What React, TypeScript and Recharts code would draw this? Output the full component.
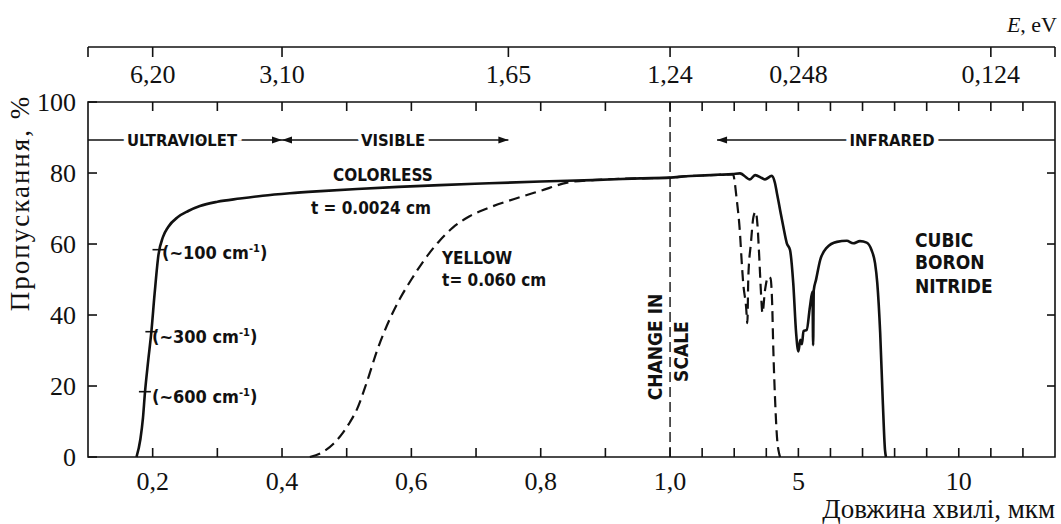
import { ComposedChart, Line, ReferenceArea, ReferenceLine, Scatter, XAxis, YAxis } from "recharts";

const W = 1061;
const H = 524;

// x: linear 0.1–1.0 µm, then a squeezed 1–13 µm part after the "change in scale"
const WL_MIN = 0.1;
const WL_MAX = 13;
const IR_SQUEEZE = 0.0496;
const toAxis = (wl: number) => (wl <= 1 ? wl : 1 + (wl - 1) * IR_SQUEEZE);
const X_DOMAIN: [number, number] = [toAxis(WL_MIN), toAxis(WL_MAX)];

// y: transmission %, the photon energy scale sits above the 100 % frame
const T_MAX = 100;
const EV_ROW = 115.5;

// [wavelength µm, transmission %]
const colorless: [number, number][] = [
  [0.175, 0], [0.181, 5], [0.185, 11], [0.188, 18], [0.193, 27], [0.198, 35.3], [0.203, 46], [0.209, 57],
  [0.216, 62], [0.224, 64.8], [0.239, 67.6], [0.255, 69.3], [0.273, 70.7], [0.3, 71.9], [0.335, 72.8],
  [0.37, 73.6], [0.412, 74.3], [0.46, 74.9], [0.516, 75.5], [0.58, 76.1], [0.644, 76.6], [0.72, 77.1],
  [0.8, 77.6], [0.88, 78], [0.954, 78.5], [1, 78.7], [1.5, 79.1], [2, 79.3], [2.5, 79.5], [2.96, 79.7],
  [3.18, 79.9], [3.49, 78.2], [3.65, 79.4], [3.86, 78.6], [3.96, 78.2], [4.17, 79.2], [4.27, 77.2],
  [4.33, 74.4], [4.43, 69.6], [4.53, 64.9], [4.64, 60.2], [4.74, 58.3], [4.84, 49], [4.93, 34.9],
  [5.0, 29.7], [5.06, 33], [5.11, 31.8], [5.16, 35.5], [5.26, 35.8], [5.36, 42.3], [5.44, 46.6],
  [5.46, 31.5], [5.48, 47], [5.55, 49.9], [5.68, 55.5], [5.88, 58.9], [6.2, 60.6], [6.51, 60.9],
  [6.71, 60.2], [6.92, 60.8], [7.13, 60.4], [7.28, 58.3], [7.39, 54.6], [7.46, 49], [7.55, 35],
  [7.63, 16], [7.7, 2], [7.73, 0],
];

const yellow: [number, number][] = [
  [0.443, 0], [0.463, 1.4], [0.48, 3.8], [0.494, 6.8], [0.505, 9.8], [0.516, 13.5], [0.531, 21],
  [0.547, 30], [0.567, 39], [0.582, 44.5], [0.6, 50], [0.618, 55], [0.644, 61], [0.664, 64.6],
  [0.69, 67.8], [0.717, 70], [0.768, 73.2], [0.8, 75], [0.841, 77.3], [0.88, 78], [0.954, 78.5],
  [1, 78.7], [1.5, 79.1], [2, 79.3], [2.5, 79.5], [2.96, 79.6], [3.08, 72.4], [3.18, 63], [3.23, 55.5],
  [3.28, 49], [3.37, 42.3], [3.41, 37.7], [3.44, 50.8], [3.52, 60.2], [3.6, 67.7], [3.67, 69.1],
  [3.72, 65.9], [3.78, 56.4], [3.83, 47], [3.88, 40.6], [3.96, 47], [4.06, 50.8], [4.13, 50.4],
  [4.18, 44], [4.22, 30], [4.27, 17], [4.34, 4.8], [4.4, 1], [4.43, 0],
];

const bottomTickWl = [0.2, 0.3, 0.4, 0.5, 0.6, 0.7, 0.8, 0.9, 1, 2, 3, 4, 5, 6, 7, 8, 9, 10, 11, 12];
const bottomTickLabels = ["0,2", "", "0,4", "", "0,6", "", "0,8", "", "1,0", "", "", "", "5", "", "", "", "", "10", "", ""];
const evTickWl = [0.1, 0.2, 0.4, 0.75, 1, 5, 11, 13];
const evTickLabels = ["", "6,20", "3,10", "1,65", "1,24", "0,248", "0,124", ""];
const yTicks = [0, 20, 40, 60, 80, 100];
const yTicksRight = [20, 40, 60, 80];

// spectral regions row
const REGION_T = 89.3;
const regionSegments: [number, number][] = [[0.1, 0.4], [0.4, 0.75], [2.465, 13]];
const regionArrows = [
  { wl: 0.4, dir: 1 },
  { wl: 0.4, dir: -1 },
  { wl: 0.75, dir: 1 },
  { wl: 2.465, dir: -1 },
];
const regionLabels = [
  { wl: 0.2454, text: "ULTRAVIOLET" },
  { wl: 0.5716, text: "VISIBLE" },
  { wl: 7.92, text: "INFRARED" },
];

const curveLabels = [
  { wl: 0.556, t: 79.4, text: "COLORLESS" },
  { wl: 0.5376, t: 70.1, text: "t = 0.0024 cm" },
  { wl: 0.7016, t: 56.2, text: "YELLOW" },
  { wl: 0.728, t: 49.9, text: "t= 0.060 cm" },
];

// absorption coefficient marks on the colorless edge
const edgeMarks = [
  { wl: 0.209, t: 58.4 },
  { wl: 0.198, t: 35.3 },
  { wl: 0.188, t: 18.4 },
];
const edgeLabels = [
  { wl: 0.2144, t: 57.7, value: "100" },
  { wl: 0.199, t: 33.8, value: "300" },
  { wl: 0.199, t: 16.9, value: "600" },
];

const materialLines = [
  { wl: 8.637, t: 61.1, text: "CUBIC" },
  { wl: 8.637, t: 54.9, text: "BORON" },
  { wl: 8.637, t: 48.0, text: "NITRIDE" },
];

const scaleNote = [
  { wl: 0.9775, t: 31, text: "CHANGE IN" },
  { wl: 1.358, t: 29.7, text: "SCALE" },
];

const INK = "#111";
const SERIF = "'Liberation Serif', 'Times New Roman', serif";
const LETTERING = "'Liberation Sans Narrow', 'DejaVu Sans Condensed', 'Arial Narrow', sans-serif";

const pts = (rows: [number, number][]) => rows.map(([wl, t]) => ({ x: toAxis(wl), y: t }));
const at = <T extends { wl: number; t?: number }>(rows: T[], t?: number) =>
  rows.map((r) => ({ ...r, x: toAxis(r.wl), y: r.t ?? t }));

// tick positions for the frame, as points on the chart's own scales
const leftTickPts = yTicks.map((t) => ({ x: toAxis(WL_MIN), y: t }));
const rightTickPts = yTicksRight.map((t) => ({ x: toAxis(WL_MAX), y: t }));
const bottomTickPts = bottomTickWl.map((wl) => ({ x: toAxis(wl), y: 0 }));
const topTickPts = bottomTickWl.map((wl) => ({ x: toAxis(wl), y: T_MAX }));
const evTickPts = evTickWl.map((wl, i) => ({ x: toAxis(wl), y: EV_ROW, label: evTickLabels[i] }));

const labelFor = (wls: number[], labels: string[]) => (v: number) => {
  const i = wls.findIndex((w) => Math.abs(toAxis(w) - v) < 1e-6);
  return i >= 0 ? labels[i] : "";
};
const bottomLabel = labelFor(bottomTickWl, bottomTickLabels);

const tickFont = { fill: INK, fontSize: 26, fontFamily: SERIF };
const TICK_W = 1.6;

function LeftLabel(p: any) {
  return (
    <text x={p.x - 12} y={p.y} dy="0.34em" textAnchor="end" {...tickFont}>
      {p.payload.value}
    </text>
  );
}

function BottomLabel(p: any) {
  return (
    <text x={p.x} y={p.y + 33} textAnchor="middle" {...tickFont}>
      {bottomLabel(p.payload.value)}
    </text>
  );
}

const tickShape = (dx: number, dy: number) => (p: any) => (
  <line x1={p.cx} y1={p.cy} x2={p.cx + dx} y2={p.cy + dy} stroke={INK} strokeWidth={TICK_W} />
);
const LeftTickMark = tickShape(9, 0);
const RightTickMark = tickShape(-8, 0);
const BottomTickMark = tickShape(0, -9);
const TopTickMark = tickShape(0, 9);

function EvTick(p: any) {
  return (
    <g>
      <line x1={p.cx} x2={p.cx} y1={p.cy} y2={p.cy + 10} stroke={INK} strokeWidth={TICK_W} />
      <text x={p.cx} y={p.cy + 36} textAnchor="middle" {...tickFont}>
        {p.payload.label}
      </text>
    </g>
  );
}

function ArrowHead(p: any) {
  const d = p.payload.dir;
  return (
    <path
      d={`M${p.cx},${p.cy} L${p.cx - d * 10},${p.cy - 3.5} L${p.cx - d * 10},${p.cy + 3.5} Z`}
      fill={INK}
    />
  );
}

function RegionText(p: any) {
  return (
    <text
      x={p.cx}
      y={p.cy}
      dy="0.36em"
      textAnchor="middle"
      fontFamily={LETTERING}
      fontWeight="bold"
      fontSize={16.5}
      fill={INK}
      stroke="#fff"
      strokeWidth={9}
      paintOrder="stroke"
    >
      {p.payload.text}
    </text>
  );
}

function CurveText(p: any) {
  return (
    <text x={p.cx} y={p.cy} dy="0.36em" textAnchor="middle" fontFamily={LETTERING} fontWeight="bold" fontSize={17} fill={INK}>
      {p.payload.text}
    </text>
  );
}

function EdgeMark(p: any) {
  return <line x1={p.cx - 6} x2={p.cx + 6} y1={p.cy} y2={p.cy} stroke={INK} strokeWidth={1.6} />;
}

function EdgeText(p: any) {
  return (
    <text x={p.cx} y={p.cy} dy="0.36em" fontFamily={LETTERING} fontWeight="bold" fontSize={18} fill={INK}>
      {`(~${p.payload.value} cm`}
      <tspan dy={-7} fontSize={11}>-1</tspan>
      <tspan dy={7}>)</tspan>
    </text>
  );
}

function MaterialText(p: any) {
  return (
    <text x={p.cx} y={p.cy} dy="0.36em" fontFamily={LETTERING} fontWeight="bold" fontSize={19} fill={INK}>
      {p.payload.text}
    </text>
  );
}

function ScaleText(p: any) {
  return (
    <text
      x={p.cx}
      y={p.cy}
      dy="0.36em"
      textAnchor="middle"
      transform={`rotate(-90 ${p.cx} ${p.cy})`}
      fontFamily={LETTERING}
      fontWeight="bold"
      fontSize={19}
      fill={INK}
    >
      {p.payload.text}
    </text>
  );
}

const marks = (data: any[], shape: any, key: string) => (
  <Scatter key={key} xAxisId="wl" yAxisId="t" data={data} shape={shape} isAnimationActive={false} />
);

export default function App() {
  return (
    <div style={{ position: "relative", width: W, height: H, background: "#fff" }}>
      <style>{"body{margin:0}"}</style>
      <ComposedChart width={W} height={H} margin={{ top: 17, right: 6, bottom: 37, left: 0 }}>
        <XAxis
          xAxisId="ev"
          orientation="top"
          type="number"
          domain={X_DOMAIN}
          tick={false}
          tickLine={false}
          height={30}
          axisLine={{ stroke: INK, strokeWidth: TICK_W }}
        />
        <XAxis
          xAxisId="wl"
          dataKey="x"
          type="number"
          domain={X_DOMAIN}
          ticks={bottomTickWl.map(toAxis)}
          interval={0}
          tick={BottomLabel}
          tickLine={false}
          tickSize={0}
          tickMargin={0}
          height={30}
          axisLine={false}
        />
        <YAxis
          yAxisId="t"
          dataKey="y"
          type="number"
          domain={[0, EV_ROW]}
          ticks={yTicks}
          interval={0}
          tick={LeftLabel}
          tickLine={false}
          tickSize={0}
          tickMargin={0}
          width={88}
          axisLine={false}
        />

        <ReferenceArea
          xAxisId="wl"
          yAxisId="t"
          x1={X_DOMAIN[0]}
          x2={X_DOMAIN[1]}
          y1={0}
          y2={T_MAX}
          fill="none"
          fillOpacity={0}
          stroke={INK}
          strokeWidth={TICK_W}
        />
        <ReferenceLine
          xAxisId="wl"
          yAxisId="t"
          segment={[{ x: toAxis(1), y: 0 }, { x: toAxis(1), y: T_MAX }]}
          stroke={INK}
          strokeWidth={1.4}
          strokeDasharray="10 5"
        />

        {regionSegments.map(([a, b], i) => (
          <Line
            key={`seg${i}`}
            xAxisId="wl"
            yAxisId="t"
            data={[{ x: toAxis(a), y: REGION_T }, { x: toAxis(b), y: REGION_T }]}
            dataKey="y"
            type="linear"
            stroke={INK}
            strokeWidth={1.3}
            dot={false}
            activeDot={false}
            isAnimationActive={false}
          />
        ))}

        <Line
          xAxisId="wl"
          yAxisId="t"
          data={pts(yellow)}
          dataKey="y"
          type="monotone"
          stroke={INK}
          strokeWidth={2.2}
          strokeDasharray="11 6"
          dot={false}
          activeDot={false}
          isAnimationActive={false}
        />
        <Line
          xAxisId="wl"
          yAxisId="t"
          data={pts(colorless)}
          dataKey="y"
          type="monotone"
          stroke={INK}
          strokeWidth={2.6}
          dot={false}
          activeDot={false}
          isAnimationActive={false}
        />

        {marks(leftTickPts, LeftTickMark, "lt")}
        {marks(rightTickPts, RightTickMark, "rt")}
        {marks(bottomTickPts, BottomTickMark, "bt")}
        {marks(topTickPts, TopTickMark, "tt")}
        {marks(evTickPts, EvTick, "ev")}
        {marks(at(regionLabels, REGION_T), RegionText, "rl")}
        {marks(at(regionArrows, REGION_T), ArrowHead, "ra")}
        {marks(at(curveLabels), CurveText, "cl")}
        {marks(at(edgeMarks), EdgeMark, "em")}
        {marks(at(edgeLabels), EdgeText, "el")}
        {marks(at(materialLines), MaterialText, "ml")}
        {marks(at(scaleNote), ScaleText, "sn")}
      </ComposedChart>

      <div
        style={{
          position: "absolute",
          left: 20,
          top: 203,
          transform: "translate(-50%, -50%) rotate(-90deg)",
          whiteSpace: "nowrap",
          fontFamily: SERIF,
          fontSize: 27,
          letterSpacing: 2,
          lineHeight: 1,
          color: INK,
        }}
      >
        Пропускання, %
      </div>
      <div
        style={{
          position: "absolute",
          right: 6,
          top: 496,
          whiteSpace: "nowrap",
          fontFamily: SERIF,
          fontSize: 27,
          lineHeight: 1,
          color: INK,
        }}
      >
        Довжина хвилі, мкм
      </div>
      <div
        style={{
          position: "absolute",
          right: 4,
          top: 14,
          whiteSpace: "nowrap",
          fontFamily: SERIF,
          fontSize: 22,
          lineHeight: 1,
          color: INK,
        }}
      >
        <i>E</i>, eV
      </div>
    </div>
  );
}
